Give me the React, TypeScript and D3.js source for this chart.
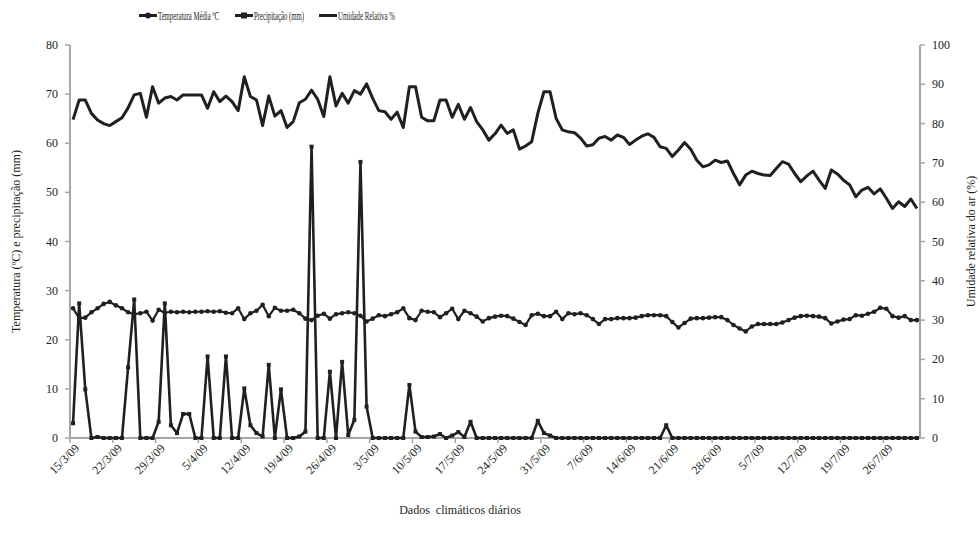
import { useRef, useEffect } from 'react';
import * as d3 from 'd3';

// daily data, 15/3/09 .. 31/7/09 (139 days)
const START = new Date(2009, 2, 15);
const END = new Date(2009, 7, 1);
const days = d3.timeDay.range(START, END);

const tickLabels = [
  '15/3/09', '22/3/09', '29/3/09', '5/4/09', '12/4/09', '19/4/09', '26/4/09',
  '3/5/09', '10/5/09', '17/5/09', '24/5/09', '31/5/09', '7/6/09', '14/6/09',
  '21/6/09', '28/6/09', '5/7/09', '12/7/09', '19/7/09', '26/7/09',
];

const temperatura = [
  26.4, 24.4, 24.5, 25.6, 26.4, 27.3, 27.7, 27.0, 26.4, 25.6,
  25.2, 25.4, 25.7, 23.9, 26.1, 25.5, 25.7, 25.6, 25.7, 25.6,
  25.7, 25.7, 25.8, 25.7, 25.8, 25.5, 25.4, 26.4, 24.2, 25.4,
  25.9, 27.1, 24.8, 26.5, 25.9, 25.9, 26.1, 25.4, 24.3, 24.0,
  24.9, 25.3, 24.3, 25.2, 25.4, 25.6, 25.4, 24.9, 23.7, 24.3,
  25.0, 24.8, 25.2, 25.6, 26.4, 24.4, 24.0, 25.9, 25.7, 25.6,
  24.6, 25.4, 26.3, 24.2, 25.9, 25.4, 24.7, 23.7, 24.4, 24.7,
  24.9, 24.8, 24.3, 23.6, 23.0, 25.0, 25.3, 24.8, 24.8, 25.7,
  24.2, 25.4, 25.2, 25.4, 25.0, 24.2, 23.2, 24.2, 24.2, 24.4,
  24.4, 24.4, 24.5, 24.8, 25.0, 25.0, 25.0, 24.8, 23.6, 22.5,
  23.4, 24.3, 24.4, 24.4, 24.5, 24.6, 24.6, 24.0, 23.0, 22.3,
  21.7, 22.7, 23.2, 23.2, 23.2, 23.2, 23.5, 24.0, 24.5, 24.8,
  24.9, 24.8, 24.7, 24.4, 23.3, 23.7, 24.1, 24.2, 25.0, 24.9,
  25.3, 25.7, 26.5, 26.3, 24.8, 24.5, 24.8, 24.0, 24.0,
];

const precipitacao = [
  3.0, 27.4, 9.9, 0, 0.2, 0, 0, 0, 0, 14.4,
  28.2, 0, 0, 0, 3.3, 27.4, 2.6, 1.0, 4.9, 4.9,
  0, 0, 16.6, 0, 0, 16.6, 0, 0, 10.1, 2.6,
  1.0, 0.3, 14.9, 0, 9.9, 0, 0, 0.3, 1.3, 59.3,
  0, 0, 13.5, 0, 15.5, 0.6, 3.7, 56.2, 6.4, 0,
  0, 0, 0, 0, 0, 10.8, 1.3, 0.2, 0.2, 0.3,
  0.8, 0, 0.5, 1.2, 0.2, 3.3, 0, 0, 0, 0,
  0, 0, 0, 0, 0, 0, 3.5, 1.0, 0.5, 0,
  0, 0, 0, 0, 0, 0, 0, 0, 0, 0,
  0, 0, 0, 0, 0, 0, 0, 2.6, 0, 0,
  0, 0, 0, 0, 0, 0, 0, 0, 0, 0,
  0, 0, 0, 0, 0, 0, 0, 0, 0, 0,
  0, 0, 0, 0, 0, 0, 0, 0, 0, 0,
  0, 0, 0, 0, 0, 0, 0, 0, 0,
];

const umidade = [
  81.0, 86.0, 86.0, 82.6, 80.9, 80.0, 79.5, 80.5, 81.5, 84.0,
  87.3, 87.7, 81.6, 89.4, 85.2, 86.5, 86.9, 86.0, 87.3, 87.3,
  87.3, 87.3, 83.9, 88.1, 85.6, 87.0, 85.6, 83.3, 91.9, 86.9,
  86.0, 79.5, 87.0, 81.9, 83.3, 79.0, 80.5, 85.3, 86.2, 88.5,
  86.2, 81.8, 91.9, 84.5, 87.7, 85.2, 88.4, 87.5, 90.1, 86.4,
  83.3, 83.0, 81.1, 82.9, 79.0, 89.4, 89.4, 81.6, 80.7, 80.7,
  86.0, 86.0, 81.6, 84.9, 81.1, 84.1, 80.5, 78.4, 75.8, 77.4,
  79.6, 77.5, 78.4, 73.5, 74.3, 75.4, 82.6, 88.1, 88.1, 81.3,
  78.4, 77.9, 77.7, 76.3, 74.3, 74.6, 76.3, 76.7, 75.8, 77.1,
  76.5, 74.7, 75.8, 76.8, 77.4, 76.5, 74.1, 73.7, 71.6, 73.3,
  75.2, 73.5, 70.7, 69.0, 69.5, 70.7, 70.1, 70.5, 67.3, 64.4,
  66.9, 67.9, 67.3, 66.9, 66.8, 68.6, 70.3, 69.7, 67.3, 65.2,
  66.7, 67.9, 65.6, 63.5, 68.2, 67.2, 65.6, 64.4, 61.4, 63.1,
  63.8, 62.1, 63.4, 61.0, 58.4, 60.1, 58.9, 60.8, 58.4,
];

const leftTicks = [0, 10, 20, 30, 40, 50, 60, 70, 80];
const rightTicks = [0, 10, 20, 30, 40, 50, 60, 70, 80, 90, 100];

const W = 980;
const H = 540;
const PLOT = { left: 70, right: 920, top: 45, bottom: 438 };
const INK = '#231f20';
const AXIS = '#a6a6a6';
const FONT = 'Liberation Serif, serif';

export default function App() {
  const svgRef = useRef<SVGSVGElement>(null);

  useEffect(() => {
    const svg = d3.select(svgRef.current);
    svg.selectAll('*').remove();

    const x = d3
      .scaleBand<number>()
      .domain(days.map((_, i) => i))
      .range([PLOT.left, PLOT.right])
      .padding(0);
    const cx = (i: number) => (x(i) ?? 0) + x.bandwidth() / 2;
    const yL = d3.scaleLinear().domain([0, 80]).range([PLOT.bottom, PLOT.top]);
    const yR = d3.scaleLinear().domain([0, 100]).range([PLOT.bottom, PLOT.top]);

    svg.append('rect').attr('width', W).attr('height', H).attr('fill', '#fff');

    // axes
    const axes = svg.append('g').attr('font-family', FONT);
    [PLOT.left, PLOT.right].forEach((ax) => {
      axes
        .append('line')
        .attr('x1', ax)
        .attr('x2', ax)
        .attr('y1', PLOT.top)
        .attr('y2', PLOT.bottom)
        .attr('stroke', AXIS)
        .attr('stroke-width', 2);
    });
    axes
      .append('line')
      .attr('x1', PLOT.left)
      .attr('x2', PLOT.right)
      .attr('y1', PLOT.bottom)
      .attr('y2', PLOT.bottom)
      .attr('stroke', AXIS)
      .attr('stroke-width', 2);

    leftTicks.forEach((v) => {
      axes
        .append('line')
        .attr('x1', PLOT.left - 5)
        .attr('x2', PLOT.left)
        .attr('y1', yL(v))
        .attr('y2', yL(v))
        .attr('stroke', AXIS)
        .attr('stroke-width', 1.5);
      axes
        .append('text')
        .attr('x', PLOT.left - 12)
        .attr('y', yL(v) + 4)
        .attr('text-anchor', 'end')
        .attr('font-size', 12)
        .attr('fill', INK)
        .text(v);
    });

    rightTicks.forEach((v) => {
      axes
        .append('line')
        .attr('x1', PLOT.right)
        .attr('x2', PLOT.right + 5)
        .attr('y1', yR(v))
        .attr('y2', yR(v))
        .attr('stroke', AXIS)
        .attr('stroke-width', 1.5);
      axes
        .append('text')
        .attr('x', PLOT.right + 12)
        .attr('y', yR(v) + 4)
        .attr('text-anchor', 'start')
        .attr('font-size', 12)
        .attr('fill', INK)
        .text(v);
    });

    tickLabels.forEach((lab, k) => {
      const i = k * 7;
      const tx = x(i) ?? 0;
      axes
        .append('line')
        .attr('x1', tx)
        .attr('x2', tx)
        .attr('y1', PLOT.bottom)
        .attr('y2', PLOT.bottom + 5)
        .attr('stroke', AXIS)
        .attr('stroke-width', 1.5);
      const lx = cx(i) + 7;
      const ly = PLOT.bottom + 11;
      axes
        .append('text')
        .attr('transform', `translate(${lx},${ly}) rotate(-45)`)
        .attr('text-anchor', 'end')
        .attr('font-size', 12)
        .attr('fill', INK)
        .text(lab);
    });

    // series
    const lineL = d3
      .line<number>()
      .x((_, i) => cx(i))
      .y((d) => yL(d));
    const lineR = d3
      .line<number>()
      .x((_, i) => cx(i))
      .y((d) => yR(d));

    svg
      .append('path')
      .datum(umidade)
      .attr('d', lineR)
      .attr('fill', 'none')
      .attr('stroke', INK)
      .attr('stroke-width', 3)
      .attr('stroke-linejoin', 'round');

    svg
      .append('path')
      .datum(temperatura)
      .attr('d', lineL)
      .attr('fill', 'none')
      .attr('stroke', INK)
      .attr('stroke-width', 2.2)
      .attr('stroke-linejoin', 'round');
    svg
      .append('g')
      .selectAll('circle')
      .data(temperatura)
      .join('circle')
      .attr('cx', (_, i) => cx(i))
      .attr('cy', (d) => yL(d))
      .attr('r', 2.3)
      .attr('fill', INK);

    svg
      .append('path')
      .datum(precipitacao)
      .attr('d', lineL)
      .attr('fill', 'none')
      .attr('stroke', INK)
      .attr('stroke-width', 2.6)
      .attr('stroke-linejoin', 'round');
    svg
      .append('g')
      .selectAll('rect')
      .data(precipitacao)
      .join('rect')
      .attr('x', (_, i) => cx(i) - 2)
      .attr('y', (d) => yL(d) - 2)
      .attr('width', 4)
      .attr('height', 4)
      .attr('fill', INK);

    // legend (condensed text, squeezed horizontally to fit the original widths)
    const legend = svg.append('g').attr('font-family', FONT).attr('fill', INK);
    const items = [
      { x: 139, label: 'Temperatura Média ºC', marker: 'circle', w: 61 },
      { x: 235, label: 'Precipitação (mm)', marker: 'rect', w: 50 },
      { x: 319, label: 'Umidade Relativa %', marker: 'none', w: 57 },
    ];
    items.forEach((it) => {
      legend
        .append('line')
        .attr('x1', it.x)
        .attr('x2', it.x + 18)
        .attr('y1', 15.5)
        .attr('y2', 15.5)
        .attr('stroke', INK)
        .attr('stroke-width', 3);
      if (it.marker === 'circle') {
        legend.append('circle').attr('cx', it.x + 9).attr('cy', 15.5).attr('r', 3).attr('fill', INK);
      } else if (it.marker === 'rect') {
        legend
          .append('rect')
          .attr('x', it.x + 6)
          .attr('y', 12.5)
          .attr('width', 6)
          .attr('height', 6)
          .attr('fill', INK);
      }
      const t = legend
        .append('text')
        .attr('font-size', 12)
        .attr('x', 0)
        .attr('y', 0)
        .text(it.label);
      const natural = (t.node() as SVGTextElement).getComputedTextLength() || it.w;
      const k = it.w / natural;
      t.attr('transform', `translate(${it.x + 19},19.5) scale(${k},1)`);
    });

    // axis titles
    const titles = svg
      .append('g')
      .attr('font-family', FONT)
      .attr('font-size', 12)
      .attr('fill', INK)
      .attr('text-anchor', 'middle');
    titles
      .append('text')
      .attr('transform', `translate(20,${(PLOT.top + PLOT.bottom) / 2}) rotate(-90)`)
      .text('Temperatura (ºC) e precipitação (mm)');
    titles
      .append('text')
      .attr('transform', `translate(975,${(PLOT.top + PLOT.bottom) / 2}) rotate(-90)`)
      .text('Umidade relativa do ar (%)');
    titles
      .append('text')
      .attr('x', 460)
      .attr('y', 514)
      .style('white-space', 'pre')
      .text('Dados  climáticos diários');
  }, []);

  return (
    <svg
      ref={svgRef}
      width={W}
      height={H}
      style={{ position: 'absolute', left: 0, top: 0, display: 'block' }}
    />
  );
}
